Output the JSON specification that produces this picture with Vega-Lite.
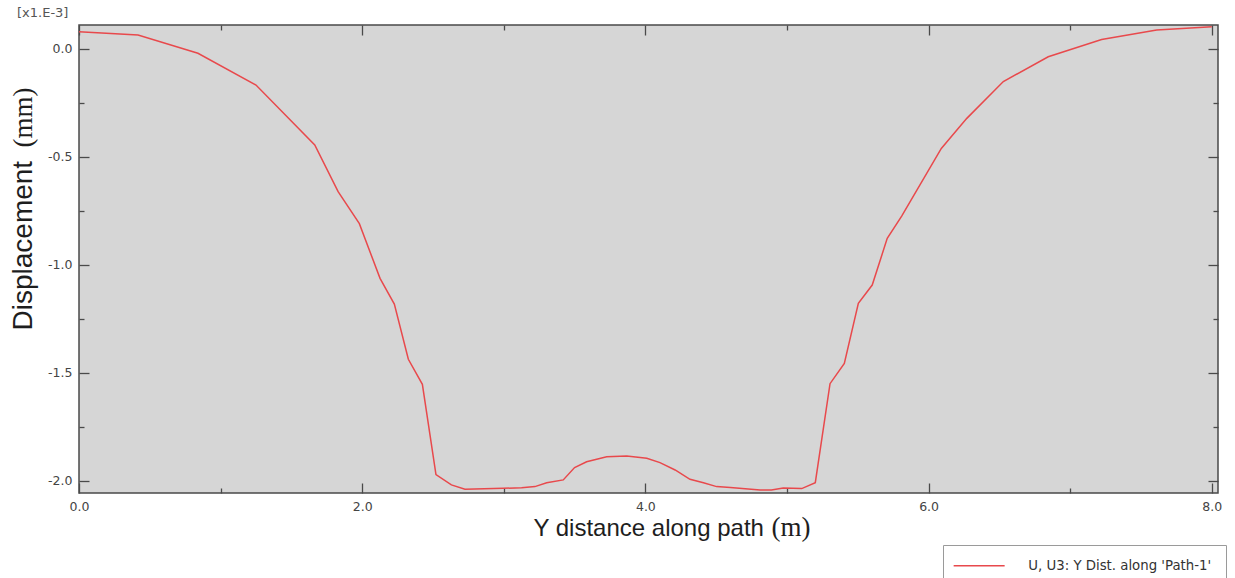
{
  "$schema": "https://vega.github.io/schema/vega-lite/v6.json",
  "width": 1139,
  "height": 468,
  "autosize": {"type": "none"},
  "padding": {"left": 79, "top": 25, "right": 17, "bottom": 85},
  "background": "white",
  "config": {
    "view": {"fill": "#d6d6d6", "stroke": "#4a4a4a", "strokeWidth": 1.5},
    "axis": {
      "domain": false,
      "grid": false,
      "labelFlush": false,
      "labelFont": "DejaVu Sans",
      "labelFontSize": 12.5,
      "labelColor": "#444444",
      "tickColor": "#4a4a4a",
      "tickWidth": 1.3
    }
  },
  "title": {
    "text": "[x1.E-3]",
    "anchor": "start",
    "frame": "group",
    "dx": -62,
    "offset": 4,
    "font": "DejaVu Sans",
    "fontSize": 13,
    "fontWeight": "normal",
    "color": "#555555"
  },
  "data": {
    "values": [
      {"dist": 0.0, "u3": 0.078},
      {"dist": 0.417, "u3": 0.062},
      {"dist": 0.84, "u3": -0.022},
      {"dist": 1.25, "u3": -0.169},
      {"dist": 1.665, "u3": -0.446},
      {"dist": 1.83, "u3": -0.662},
      {"dist": 1.98, "u3": -0.81},
      {"dist": 2.126, "u3": -1.063},
      {"dist": 2.227, "u3": -1.182},
      {"dist": 2.326, "u3": -1.437},
      {"dist": 2.425, "u3": -1.553},
      {"dist": 2.521, "u3": -1.97},
      {"dist": 2.63, "u3": -2.018},
      {"dist": 2.726, "u3": -2.038},
      {"dist": 2.997, "u3": -2.034},
      {"dist": 3.126, "u3": -2.031},
      {"dist": 3.22, "u3": -2.026},
      {"dist": 3.303, "u3": -2.008},
      {"dist": 3.42, "u3": -1.995},
      {"dist": 3.5, "u3": -1.938},
      {"dist": 3.585, "u3": -1.911},
      {"dist": 3.727, "u3": -1.888},
      {"dist": 3.868, "u3": -1.884},
      {"dist": 4.01, "u3": -1.895},
      {"dist": 4.103, "u3": -1.915},
      {"dist": 4.21, "u3": -1.949},
      {"dist": 4.315, "u3": -1.992},
      {"dist": 4.41, "u3": -2.008},
      {"dist": 4.503, "u3": -2.026},
      {"dist": 4.6, "u3": -2.03},
      {"dist": 4.81, "u3": -2.042},
      {"dist": 4.89, "u3": -2.042},
      {"dist": 4.974, "u3": -2.032},
      {"dist": 5.104, "u3": -2.035},
      {"dist": 5.2, "u3": -2.008},
      {"dist": 5.304, "u3": -1.55},
      {"dist": 5.405, "u3": -1.456},
      {"dist": 5.504, "u3": -1.178},
      {"dist": 5.602, "u3": -1.094},
      {"dist": 5.708, "u3": -0.878},
      {"dist": 5.81, "u3": -0.775},
      {"dist": 6.09, "u3": -0.462},
      {"dist": 6.27, "u3": -0.323},
      {"dist": 6.528, "u3": -0.153},
      {"dist": 6.845, "u3": -0.038},
      {"dist": 7.222, "u3": 0.042},
      {"dist": 7.611, "u3": 0.086},
      {"dist": 8.0, "u3": 0.101}
    ]
  },
  "layer": [
    {
      "mark": {"type": "line", "strokeWidth": 1.5},
      "encoding": {
        "x": {
          "field": "dist",
          "type": "quantitative",
          "scale": {"domain": [0, 8.044], "nice": false, "zero": false},
          "axis": {
            "orient": "bottom",
            "values": [0, 1, 2, 3, 4, 5, 6, 7, 8],
            "labelExpr": "datum.value % 2 === 0 ? format(datum.value, '.1f') : ''",
            "tickSize": {"condition": {"test": "datum.value % 2 === 0", "value": -10}, "value": -5},
            "labelPadding": 17,
            "title": "Y distance along path",
            "titleFont": "Liberation Sans",
            "titleFontSize": 24,
            "titleFontWeight": "normal",
            "titleColor": "#1e1e1e",
            "titleX": 454,
            "titleY": 42,
            "titleAlign": "left",
            "titleBaseline": "alphabetic"
          }
        },
        "y": {
          "field": "u3",
          "type": "quantitative",
          "scale": {"domain": [-2.0555, 0.1087], "nice": false, "zero": false},
          "axis": {
            "orient": "left",
            "values": [-2, -1.75, -1.5, -1.25, -1, -0.75, -0.5, -0.25, 0],
            "labelExpr": "abs(datum.value * 2 - round(datum.value * 2)) < 0.001 ? replace(format(datum.value, '.1f'), '\u2212', '-') : ''",
            "tickSize": {"condition": {"test": "abs(datum.value * 2 - round(datum.value * 2)) < 0.001", "value": -10}, "value": -5},
            "labelPadding": 17,
            "title": "Displacement",
            "titleFont": "Liberation Sans",
            "titleFontSize": 28,
            "titleFontWeight": "normal",
            "titleColor": "#1e1e1e",
            "titleAngle": -90,
            "titleX": -48,
            "titleY": 305,
            "titleAlign": "left",
            "titleBaseline": "alphabetic"
          }
        },
        "color": {
          "datum": "U, U3: Y Dist. along 'Path-1'",
          "scale": {"range": ["#e8494c"]},
          "legend": {
            "orient": "none",
            "legendX": 864,
            "legendY": 520,
            "title": null,
            "symbolType": "M-5,0H5",
            "symbolSize": 104,
            "symbolStrokeWidth": 1.5,
            "symbolOffset": 15.5,
            "labelOffset": 42.5,
            "labelLimit": 400,
            "labelFont": "DejaVu Sans",
            "labelFontSize": 13.3,
            "labelColor": "#333333",
            "strokeColor": "#9a9a9a",
            "fillColor": "white",
            "padding": 14
          }
        }
      }
    },
    {
      "mark": {"type": "line", "strokeOpacity": 0},
      "encoding": {
        "x": {
          "field": "dist",
          "type": "quantitative",
          "axis": {
            "orient": "top",
            "values": [0, 1, 2, 3, 4, 5, 6, 7, 8],
            "labels": false,
            "tickSize": {"condition": {"test": "datum.value % 2 === 0", "value": -10}, "value": -5},
            "title": null
          }
        },
        "y": {
          "field": "u3",
          "type": "quantitative",
          "axis": {
            "orient": "right",
            "values": [-2, -1.75, -1.5, -1.25, -1, -0.75, -0.5, -0.25, 0],
            "labels": false,
            "tickSize": {"condition": {"test": "abs(datum.value * 2 - round(datum.value * 2)) < 0.001", "value": -10}, "value": -5},
            "title": null
          }
        }
      }
    },
    {
      "mark": {"type": "line", "strokeOpacity": 0},
      "encoding": {
        "x": {
          "field": "dist",
          "type": "quantitative",
          "axis": {
            "orient": "bottom",
            "ticks": false,
            "labels": false,
            "title": "(m)",
            "titleFont": "Liberation Serif",
            "titleFontSize": 27,
            "titleFontWeight": "normal",
            "titleColor": "#1e1e1e",
            "titleX": 692,
            "titleY": 42,
            "titleAlign": "left",
            "titleBaseline": "alphabetic"
          }
        },
        "y": {
          "field": "u3",
          "type": "quantitative",
          "axis": {
            "orient": "left",
            "ticks": false,
            "labels": false,
            "title": "(mm)",
            "titleFont": "Liberation Serif",
            "titleFontSize": 27,
            "titleFontWeight": "normal",
            "titleColor": "#1e1e1e",
            "titleAngle": -90,
            "titleX": -48,
            "titleY": 122,
            "titleAlign": "left",
            "titleBaseline": "alphabetic"
          }
        }
      }
    }
  ],
  "resolve": {"axis": {"x": "independent", "y": "independent"}}
}
